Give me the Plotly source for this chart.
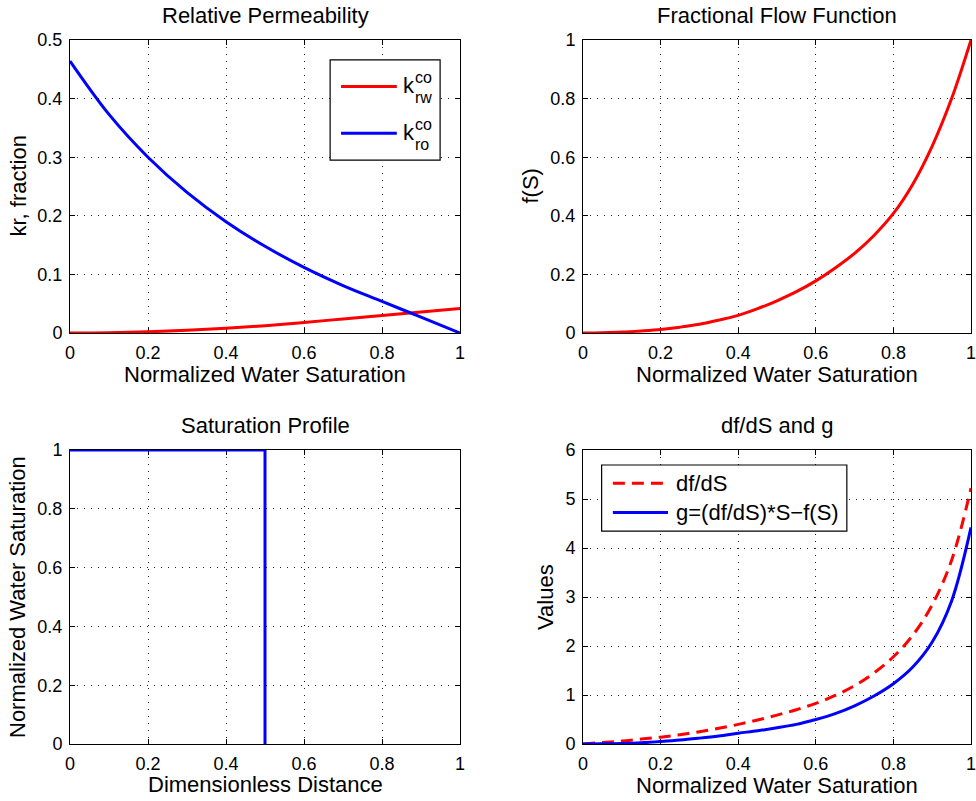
import plotly.graph_objects as go
from plotly.subplots import make_subplots

# ---------------- data ----------------
S_kr = [0, 0.1, 0.2, 0.3, 0.4, 0.5, 0.6, 0.7, 0.8, 0.9, 1.0]
krw = [0, 0.0005, 0.002, 0.0045, 0.008, 0.0125, 0.018, 0.024, 0.030, 0.036, 0.042]
kro = [0.464, 0.373, 0.300, 0.240, 0.190, 0.148, 0.112, 0.081, 0.054, 0.027, 0.0]

S_f = [0, 0.05, 0.1, 0.15, 0.2, 0.25, 0.3, 0.35, 0.4, 0.45, 0.5,
       0.55, 0.6, 0.65, 0.7, 0.75, 0.8, 0.85, 0.9, 0.95, 1.0]
f_S = [0, 0.001, 0.003, 0.007, 0.012, 0.02, 0.03, 0.044, 0.06, 0.083, 0.11,
       0.141, 0.178, 0.222, 0.272, 0.333, 0.408, 0.508, 0.638, 0.80, 1.0]

x_D = [0, 0.5, 0.5]
Sw_profile = [1, 1, 0]

S_d = [0, 0.05, 0.1, 0.15, 0.2, 0.25, 0.3, 0.35, 0.4, 0.45, 0.5,
       0.55, 0.6, 0.65, 0.7, 0.75, 0.8, 0.85, 0.9, 0.95, 1.0]
dfdS = [0, 0.03, 0.06, 0.10, 0.14, 0.19, 0.25, 0.32, 0.40, 0.49, 0.59,
        0.70, 0.83, 0.99, 1.19, 1.45, 1.78, 2.22, 2.84, 3.75, 5.22]
g_vals = [0, 0.003, 0.01, 0.025, 0.05, 0.08, 0.12, 0.165, 0.22, 0.27, 0.33,
          0.40, 0.50, 0.62, 0.78, 0.98, 1.23, 1.57, 2.08, 2.92, 4.42]

titles = ["Relative Permeability", "Fractional Flow Function", "Saturation Profile", "df/dS and g"]
xlabels = ["Normalized Water Saturation", "Normalized Water Saturation",
           "Dimensionless Distance", "Normalized Water Saturation"]
ylabels = ["kr, fraction", "f(S)", "Normalized Water Saturation", "Values"]

FONT = "Liberation Sans, Arial, sans-serif"
RED = "#ff0000"
BLUE = "#0000ff"

fig = make_subplots(rows=2, cols=2)

fig.add_trace(go.Scatter(x=S_kr, y=krw, mode="lines", line=dict(color=RED, width=3, shape="spline"),
                         showlegend=False), row=1, col=1)
fig.add_trace(go.Scatter(x=S_kr, y=kro, mode="lines", line=dict(color=BLUE, width=3, shape="spline"),
                         showlegend=False), row=1, col=1)
fig.add_trace(go.Scatter(x=S_f, y=f_S, mode="lines", line=dict(color=RED, width=3, shape="spline"),
                         showlegend=False), row=1, col=2)
fig.add_trace(go.Scatter(x=x_D, y=Sw_profile, mode="lines", line=dict(color=BLUE, width=3),
                         showlegend=False), row=2, col=1)
fig.add_trace(go.Scatter(x=S_d, y=dfdS, mode="lines",
                         line=dict(color=RED, width=3, dash="12px,7px", shape="spline"),
                         showlegend=False), row=2, col=2)
fig.add_trace(go.Scatter(x=S_d, y=g_vals, mode="lines", line=dict(color=BLUE, width=3, shape="spline"),
                         showlegend=False), row=2, col=2)

# domains (pixel-matched)
W, H = 976, 801
xd_left = [70 / W, 460 / W]
xd_right = [583 / W, 971 / W]
yd_top = [1 - 333 / H, 1 - 40 / H]
yd_bot = [1 - 744 / H, 1 - 450 / H]

axis_common = dict(
    showline=True, linecolor="black", linewidth=1, mirror="ticks",
    ticks="inside", ticklen=5, tickcolor="black", tickwidth=1,
    showgrid=True, gridcolor="#222222", gridwidth=1, griddash="1px,6px",
    zeroline=False, tickfont=dict(family=FONT, size=18, color="black"),
    layer="below traces", ticklabelstandoff=3, automargin=False,
    ticklabeloverflow="allow",
)

yranges = [[0, 0.5], [0, 1], [0, 1], [0, 6]]
ydticks = [0.1, 0.2, 0.2, 1]
doms = [(xd_left, yd_top), (xd_right, yd_top), (xd_left, yd_bot), (xd_right, yd_bot)]
for i in range(4):
    sfx = "" if i == 0 else str(i + 1)
    fig.layout["xaxis" + sfx].update(domain=doms[i][0], range=[0, 1], dtick=0.2, tick0=0, **axis_common)
    fig.layout["yaxis" + sfx].update(domain=doms[i][1], range=yranges[i], dtick=ydticks[i], tick0=0,
                                     **axis_common)

annotations = []
yshift_x = [-41, -41, -40, -41]
xshift_y = [-52, -53, -53, -38]
for i in range(4):
    sfx = "" if i == 0 else str(i + 1)
    xr = "x" + sfx + " domain"
    yr = "y" + sfx + " domain"
    annotations.append(dict(text=titles[i], xref=xr, yref=yr, x=0.5, y=1, xanchor="center",
                            yanchor="bottom", yshift=10, showarrow=False,
                            font=dict(family=FONT, size=22, color="black")))
    annotations.append(dict(text=xlabels[i], xref=xr, yref=yr, x=0.5, y=0, xanchor="center",
                            yanchor="middle", yshift=yshift_x[i], showarrow=False,
                            font=dict(family=FONT, size=22, color="black")))
    annotations.append(dict(text=ylabels[i], xref=xr, yref=yr, x=0, y=0.5, xanchor="center",
                            yanchor="middle", xshift=xshift_y[i], textangle=-90, showarrow=False,
                            font=dict(family=FONT, size=22, color="black")))

shapes = []
# Legend for relative permeability
shapes.append(dict(type="rect", xref="x domain", yref="y domain", x0=0.667, x1=0.949, y0=0.590, y1=0.932,
                   line=dict(color="black", width=1.2), fillcolor="white", layer="above"))
shapes.append(dict(type="line", xref="x domain", yref="y domain", x0=0.695, x1=0.838, y0=0.841, y1=0.841,
                   line=dict(color=RED, width=3), layer="above"))
shapes.append(dict(type="line", xref="x domain", yref="y domain", x0=0.695, x1=0.838, y0=0.682, y1=0.682,
                   line=dict(color=BLUE, width=3), layer="above"))
leg1 = [("k", 0.851, 0.844, 22), ("co", 0.882, 0.871, 16), ("rw", 0.882, 0.803, 16),
        ("k", 0.851, 0.685, 22), ("co", 0.882, 0.712, 16), ("ro", 0.882, 0.644, 16)]
for t, xx, yy, sz in leg1:
    annotations.append(dict(text=t, xref="x domain", yref="y domain", x=xx, y=yy, xanchor="left",
                            yanchor="middle", showarrow=False, borderpad=0,
                            font=dict(family=FONT, size=sz, color="black")))

# Legend for df/dS and g
shapes.append(dict(type="rect", xref="x4 domain", yref="y4 domain", x0=0.048, x1=0.680, y0=0.724, y1=0.949,
                   line=dict(color="black", width=1.2), fillcolor="white", layer="above"))
shapes.append(dict(type="line", xref="x4 domain", yref="y4 domain", x0=0.077, x1=0.219, y0=0.887, y1=0.887,
                   line=dict(color=RED, width=3, dash="12px,7px"), layer="above"))
shapes.append(dict(type="line", xref="x4 domain", yref="y4 domain", x0=0.077, x1=0.219, y0=0.787, y1=0.787,
                   line=dict(color=BLUE, width=3), layer="above"))
for t, yy in [("df/dS", 0.887), ("g=(df/dS)*S\u2212f(S)", 0.787)]:
    annotations.append(dict(text=t, xref="x4 domain", yref="y4 domain", x=0.236, y=yy, xanchor="left",
                            yanchor="middle", showarrow=False, borderpad=0,
                            font=dict(family=FONT, size=22, color="black")))

fig.update_layout(
    width=W, height=H, margin=dict(l=0, r=0, t=0, b=0, pad=0, autoexpand=False),
    paper_bgcolor="white", plot_bgcolor="white",
    font=dict(family=FONT, size=18, color="black"),
    annotations=annotations, shapes=shapes, showlegend=False,
)

fig.write_html("out.html")
